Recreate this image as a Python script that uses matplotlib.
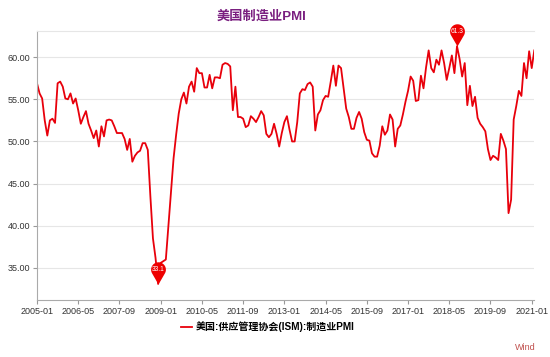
import matplotlib
matplotlib.use("Agg")
import matplotlib.pyplot as plt
from matplotlib.path import Path
import numpy as np
import pandas as pd

# US ISM manufacturing PMI, monthly, 2005-01 .. 2021-02
y2005 = [56.9, 55.7, 55.1, 52.5, 50.7, 52.5, 52.7, 52.2, 56.9, 57.1, 56.5, 55.1]
y2006 = [55.0, 55.7, 54.5, 55.1, 53.7, 52.1, 52.9, 53.6, 52.1, 51.3, 50.4, 51.3]
y2007 = [49.4, 51.8, 50.6, 52.5, 52.6, 52.5, 51.8, 51.0, 51.0, 51.0, 50.3, 49.0]
y2008 = [50.3, 47.6, 48.3, 48.7, 48.9, 49.8, 49.8, 49.0, 43.5, 38.5, 36.2, 33.1]
y2009 = [35.6, 35.8, 36.0, 40.0, 44.0, 48.0, 50.8, 53.3, 55.0, 55.8, 54.5, 56.5]
y2010 = [57.1, 55.9, 58.7, 58.1, 58.1, 56.4, 56.4, 57.9, 56.3, 57.6, 57.6, 57.5]
y2011 = [59.1, 59.3, 59.2, 58.9, 53.7, 56.5, 52.9, 52.9, 52.7, 51.7, 51.9, 53.0]
y2012 = [52.7, 52.3, 52.9, 53.6, 53.1, 50.9, 50.5, 50.9, 52.1, 50.9, 49.4, 51.0]
y2013 = [52.3, 53.0, 51.4, 50.0, 50.0, 52.3, 55.7, 56.2, 56.1, 56.8, 57.0, 56.5]
y2014 = [51.3, 53.2, 53.7, 54.9, 55.4, 55.3, 57.1, 59.0, 56.6, 59.0, 58.7, 56.3]
y2015 = [53.9, 52.9, 51.5, 51.5, 52.8, 53.5, 52.7, 51.1, 50.2, 50.1, 48.6, 48.2]
y2016 = [48.2, 49.5, 51.8, 50.8, 51.3, 53.2, 52.6, 49.4, 51.5, 51.9, 53.2, 54.7]
y2017 = [56.0, 57.7, 57.2, 54.8, 54.9, 57.8, 56.3, 58.8, 60.8, 58.7, 58.2, 59.7]
y2018 = [59.1, 60.8, 59.3, 57.3, 58.7, 60.2, 58.1, 61.3, 59.8, 57.7, 59.3, 54.3]
y2019 = [56.6, 54.2, 55.3, 52.8, 52.1, 51.7, 51.2, 49.1, 47.8, 48.3, 48.1, 47.8]
y2020 = [50.9, 50.1, 49.1, 41.5, 43.1, 52.6, 54.2, 56.0, 55.4, 59.3, 57.5, 60.7]
y2021 = [58.7, 60.8]

pmi = np.array(y2005 + y2006 + y2007 + y2008 + y2009 + y2010 + y2011 + y2012
               + y2013 + y2014 + y2015 + y2016 + y2017 + y2018 + y2019 + y2020 + y2021)
months = pd.period_range("2005-01", periods=len(pmi), freq="M").strftime("%Y-%m")
yticks = [35, 40, 45, 50, 55, 60]

title = "美国制造业PMI"
series_name = "美国:供应管理协会(ISM):制造业PMI"
red = "#e8000b"

plt.rcParams['font.family'] = ['Liberation Sans', 'Noto Sans CJK SC']

fig = plt.figure(figsize=(5.5, 3.57), dpi=100)
ax = fig.add_axes([37 / 550, 57 / 357, 497.3 / 550, 269 / 357])

x = np.arange(len(pmi))
line, = ax.plot(x, pmi, color=red, lw=1.3, solid_joinstyle="round")

ax.set_xlim(0, len(pmi) - 1)
ax.set_ylim(31.2, 63.1)
ax.set_yticks(yticks)
ax.yaxis.set_major_formatter(matplotlib.ticker.FormatStrFormatter("%.2f"))
ax.set_xticks(x[::16])
ax.set_xticklabels(months[::16])
ax.tick_params(length=3, color="#999999", labelsize=6.5, labelcolor="#333333", pad=2)

ax.yaxis.grid(True, color="#e6e6e6", lw=0.8)
ax.set_axisbelow(True)
ax.spines["right"].set_visible(False)
ax.spines["top"].set_color("#e6e6e6")
ax.spines["left"].set_color("#aaaaaa")
ax.spines["bottom"].set_color("#aaaaaa")

# pin marker (tip at the data point, balloon above)
th = np.linspace(np.radians(-30), np.radians(210), 40)
verts = [(0, 0)] + list(zip(np.cos(th), 2 + np.sin(th))) + [(0, 0)]
codes = [Path.MOVETO] + [Path.LINETO] * len(th) + [Path.CLOSEPOLY]
pin = Path(verts, codes)

for i in [int(np.argmin(pmi)), int(np.argmax(pmi))]:
    ax.plot(i, pmi[i], marker=pin, markersize=32, color="#ee0000", mec="none",
            clip_on=False, zorder=5)
    ax.annotate(f"{pmi[i]:.1f}", (i, pmi[i]), xytext=(0, 10.7), textcoords="offset points",
                ha="center", va="center", color="white", fontsize=4.8, zorder=6,
                annotation_clip=False)

fig.text(262 / 550, 1 - 17 / 357, title, ha="center", va="center",
         fontsize=9.5, fontweight="bold", color="#7a1f80")

fig.legend([line], [series_name], loc="center", bbox_to_anchor=(0.487, 0.084),
           frameon=False, prop={"size": 7.2, "weight": "bold"},
           handlelength=1.1, handletextpad=0.4)

fig.text(525 / 550, 1 - 347 / 357, "Wind", ha="center", va="center",
         fontsize=6.5, color="#c0504d")

fig.savefig("out.png", dpi=100)
